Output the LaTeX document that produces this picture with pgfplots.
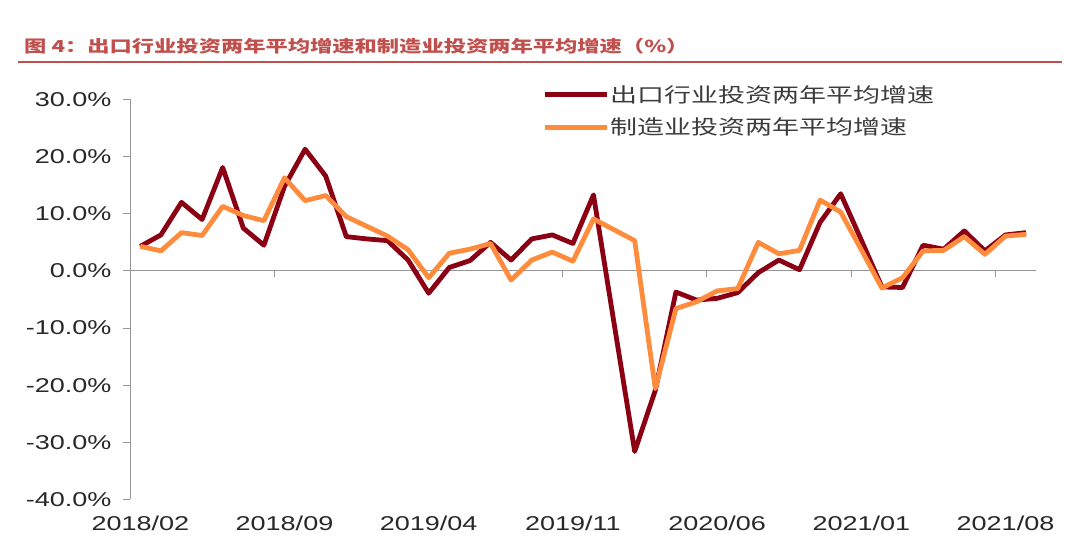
\documentclass[border=0pt]{standalone}
\usepackage{fontspec}
\setmainfont{Liberation Sans}[FakeStretch=1.35]
\newfontfamily\cjk{Noto Sans CJK SC}[FakeStretch=1.35]
\usepackage{pgfplots}
\usepackage{pgfplotstable}
\pgfplotsset{compat=1.18}
\definecolor{exportred}{RGB}{140,0,20}
\definecolor{mfgorange}{RGB}{255,140,60}
\definecolor{titlered}{RGB}{192,80,77}
\definecolor{axisgray}{RGB}{150,150,150}
\definecolor{labelgray}{RGB}{40,40,40}
\definecolor{legendgray}{RGB}{60,60,60}

\pgfplotstableread{
idx exp mfg
0 4.3 4.3
1 6.3 3.5
2 12.0 6.7
3 9.0 6.2
4 18.1 11.3
5 7.5 9.7
6 4.5 8.8
7 14.8 16.3
8 21.3 12.3
9 16.6 13.2
10 6.0 9.5
11 5.6 7.8
12 5.3 6.1
13 1.9 3.7
14 -3.9 -1.2
15 0.6 3.1
16 1.8 3.8
17 5.0 4.8
18 1.9 -1.6
19 5.6 1.9
20 6.3 3.3
21 4.8 1.7
22 13.3 9.1
23 -9.2 7.2
24 -31.6 5.3
25 -20.9 -20.6
26 -3.7 -6.6
27 -5.1 -5.4
28 -4.8 -3.5
29 -3.8 -3.1
30 -0.3 5.0
31 1.9 3.0
32 0.2 3.6
33 8.5 12.4
34 13.5 10.3
35 5.4 3.7
36 -2.8 -3.0
37 -2.9 -1.2
38 4.5 3.5
39 3.8 3.6
40 7.0 6.0
41 3.5 2.9
42 6.3 6.1
43 6.7 6.4
}\datatable

\begin{document}
\begin{tikzpicture}[x=1pt,y=1pt]
\path[use as bounding box] (0,0) rectangle (1080,551);
\node[anchor=base west, inner sep=0pt, text=titlered, font=\cjk\bfseries\fontsize{16.5}{20}\selectfont] at (24,498) {图 4：出口行业投资两年平均增速和制造业投资两年平均增速（\%）};
\draw[titlered, line width=1.5pt] (18,489) -- (1062,489);
\begin{axis}[
  at={(130pt,51.5pt)}, anchor=south west,
  width=906.4pt, height=400pt, scale only axis,
  xmin=-0.5, xmax=43.5, ymin=-40, ymax=30,
  axis lines*=left,
  x axis line style={draw=none},
  y axis line style={draw=axisgray, line width=1pt},
  ytick={-40,-30,...,30},
  yticklabels={-40.0\%,-30.0\%,-20.0\%,-10.0\%,0.0\%,10.0\%,20.0\%,30.0\%},
  xtick={0,7,...,42},
  xticklabels={2018/02,2018/09,2019/04,2019/11,2020/06,2021/01,2021/08},
  xtick style={draw=none},
  ytick style={draw=axisgray, line width=1pt},
  tick align=outside,
  major tick length=7pt,
  ticklabel style={font=\fontsize{20}{24}\selectfont, text=labelgray},
  yticklabel style={xshift=-8pt},
  xticklabel style={yshift=-6pt},
  clip=false,
  legend style={at={(0.4545,1.04)}, anchor=north west, draw=none, fill=none,
    font=\cjk\fontsize{20}{24}\selectfont, text=legendgray, row sep=10pt, inner sep=0pt,
    cells={anchor=west}},
  legend image code/.code={\draw[#1] (0pt,0pt) -- (62pt,0pt);},
]
\draw[axisgray, line width=1pt] (axis cs:-0.5,0) -- (axis cs:43.5,0);
\pgfplotsinvokeforeach{6.5,13.5,20.5,27.5,34.5,41.5}{
  \draw[axisgray, line width=1pt] (axis cs:#1,0) -- ++(0pt,-6pt);
}
\addplot[exportred, line width=4.8pt, line join=round] table[x=idx,y=exp]{\datatable};
\addlegendentry{出口行业投资两年平均增速}
\addplot[mfgorange, line width=4.8pt, line join=round] table[x=idx,y=mfg]{\datatable};
\addlegendentry{制造业投资两年平均增速}
\end{axis}
\end{tikzpicture}
\end{document}
